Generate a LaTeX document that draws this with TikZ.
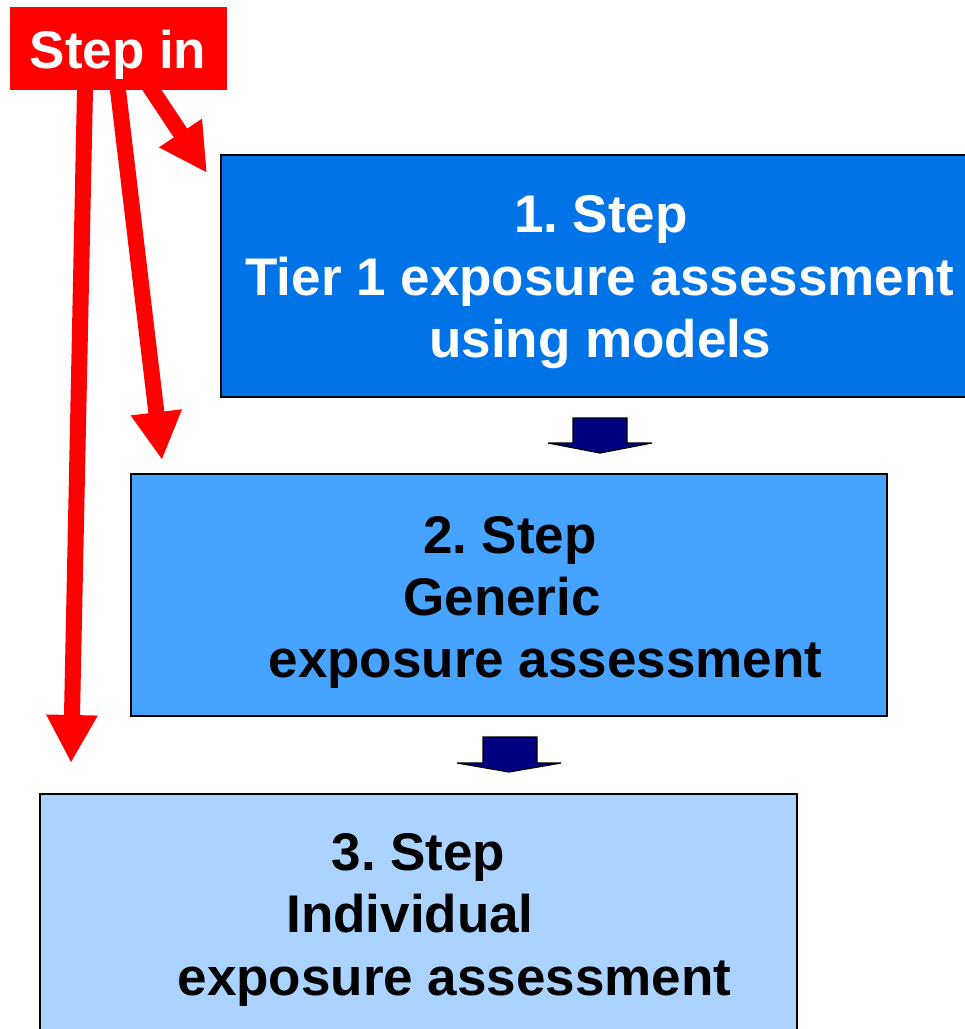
\documentclass[tikz,border=0pt]{standalone}
\usepackage{fontspec}
\setmainfont{Liberation Sans}
\usetikzlibrary{arrows.meta,backgrounds}
\frenchspacing
\definecolor{redc}{HTML}{FF0000}
\definecolor{blueA}{HTML}{0073E6}
\definecolor{blueB}{HTML}{46A3FF}
\definecolor{blueC}{HTML}{AAD4FF}
\definecolor{navyc}{HTML}{000080}
\tikzset{
  stepbox/.style={draw=black, line width=2pt, rectangle, inner sep=0pt},
  txtw/.style={anchor=base, inner sep=0pt, text=white, font=\fontsize{53}{60}\selectfont\bfseries},
  txtk/.style={anchor=base, inner sep=0pt, text=black, font=\fontsize{53}{60}\selectfont\bfseries},
  redarrow/.style={draw=redc, line width=16pt, -{Triangle[width=48pt,length=48pt]}},
  blockarrow/.style={fill=navyc, draw=black, line width=1.2pt, line join=miter}
}
\begin{document}
\begin{tikzpicture}[x=1pt,y=-1pt]
\useasboundingbox (0,0) rectangle (965,1029);
% boxes
\node[stepbox, fill=blueA, minimum width=760pt, minimum height=242pt] (b1) at (601,276) {};
\node[stepbox, fill=blueB, minimum width=756pt, minimum height=242pt] (b2) at (509,595) {};
\node[stepbox, fill=blueC, minimum width=757pt, minimum height=250pt] (b3) at (418.5,919) {};
% step in box
\node[fill=redc, minimum width=217pt, minimum height=83pt, inner sep=0pt] (stepin) at (118.5,48.5) {};
\node[txtw] (stepintxt) at (118,68) {Step in};
% texts
\node[txtw] (t11) at (601,232) {1.\ Step};
\node[txtw] (t12) at (600,295) {Tier 1 exposure assessment};
\node[txtw] (t13) at (600,357) {using models};
\node[txtk] (t21) at (510,553) {2.\ Step};
\node[txtk] (t22) at (502,615) {Generic};
\node[txtk] (t23) at (545.5,677) {exposure assessment};
\node[txtk] (t31) at (418.5,870) {3.\ Step};
\node[txtk] (t32) at (410,932) {Individual};
\node[txtk] (t33) at (454.5,995) {exposure assessment};
% red arrows
\coordinate (a1s) at (138.7,70);
\coordinate (a1e) at (207,173);
\coordinate (a2s) at (115.6,70);
\coordinate (a2e) at (162,460);
\coordinate (a3s) at (85.4,70);
\coordinate (a3e) at (71,763);
\begin{scope}[on background layer]
\draw[redarrow] (a1s) -- (a1e);
\draw[redarrow] (a2s) -- (a2e);
\draw[redarrow] (a3s) -- (a3e);
\end{scope}
% block arrows
\draw[blockarrow] (573,418) -- (627,418) -- (627,443) -- (652,443) -- (600,453) -- (548,443) -- (573,443) -- cycle;
\draw[blockarrow] (483,737) -- (537,737) -- (537,763) -- (561,763) -- (509,772) -- (457,763) -- (483,763) -- cycle;
\end{tikzpicture}
\end{document}
